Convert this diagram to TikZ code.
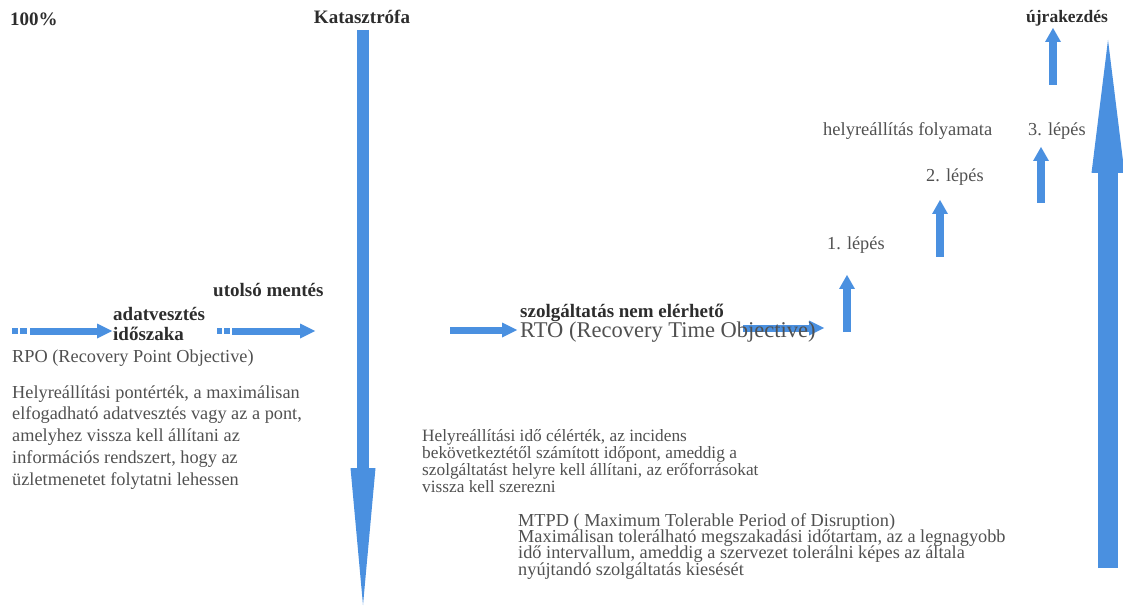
\documentclass[tikz,border=0pt]{standalone}
\usepackage{fontspec}
\setmainfont{Liberation Serif}
\usetikzlibrary{arrows.meta}
\definecolor{arrowblue}{RGB}{74,144,224}
\definecolor{txtgrey}{RGB}{80,80,80}
\definecolor{boldgrey}{RGB}{45,45,45}
\lineskiplimit=-100pt
\tikzset{
  blk/.style={draw=arrowblue, line width=#1, line cap=butt},
  smallh/.style={blk=7pt, -{Triangle[width=15pt,length=15pt,line width=0pt]}},
  smallv/.style={blk=8pt, -{Triangle[width=16pt,length=14pt,line width=0pt]}},
  sq/.style={fill=arrowblue, draw=none},
  lbl/.style={inner sep=0pt, anchor=base west, text=txtgrey, align=left},
  bld/.style={inner sep=0pt, anchor=base west, text=boldgrey, font=\bfseries\fontsize{19}{22}\selectfont},
}
\begin{document}
\begin{tikzpicture}[x=1pt,y=-1pt]
\useasboundingbox (0,0) rectangle (1123,609);
% big arrows
\coordinate (dtop) at (363,30);
\coordinate (dbot) at (363,605);
\draw[blk=12pt, -{Triangle[width=25pt,length=137pt,line width=0pt]}] (dtop) -- (dbot);
\coordinate (ubot) at (1108,568);
\coordinate (utop) at (1108,40);
\draw[blk=20pt, -{Triangle[width=33pt,length=133pt,line width=0pt]}] (ubot) -- (utop);
% horizontal small arrows
\fill[sq] (12,328) rectangle (18,334);
\fill[sq] (20,328) rectangle (27,334);
\coordinate (h1s) at (30,331); \coordinate (h1e) at (112,331);
\draw[smallh] (h1s) -- (h1e);
\fill[sq] (217,328) rectangle (222,334);
\fill[sq] (224,328) rectangle (230,334);
\coordinate (h2s) at (232,331); \coordinate (h2e) at (315,331);
\draw[smallh] (h2s) -- (h2e);
\coordinate (h3s) at (450,330); \coordinate (h3e) at (517,330);
\draw[smallh] (h3s) -- (h3e);
\coordinate (h4s) at (743,328); \coordinate (h4e) at (824,328);
\draw[smallh] (h4s) -- (h4e);
% vertical small arrows
\coordinate (v1s) at (847,332); \coordinate (v1e) at (847,275);
\draw[smallv] (v1s) -- (v1e);
\coordinate (v2s) at (940,257); \coordinate (v2e) at (940,200);
\draw[smallv] (v2s) -- (v2e);
\coordinate (v3s) at (1041,203); \coordinate (v3e) at (1041,147);
\draw[smallv] (v3s) -- (v3e);
\coordinate (v4s) at (1053,85); \coordinate (v4e) at (1053,28);
\draw[smallv] (v4s) -- (v4e);
% bold labels
\node[bld] (p100) at (10,26) {100\%};
\node[bld, anchor=base] (kat) at (362,24) {Katasztrófa};
\node[bld, anchor=base, font=\bfseries\fontsize{17.5}{20}\selectfont] (ujra) at (1067,23) {újrakezdés};
\node[bld] (utolso) at (213,297) {utolsó mentés};
\node[bld] (adatv) at (113,320) {adatvesztés};
\node[bld] (idoszak) at (113,340) {időszaka};
\node[bld] (szolg) at (520,317) {szolgáltatás nem elérhető};
% normal labels
\node[lbl, font=\fontsize{18.3}{22}\selectfont] (rpo) at (12,362) {RPO (Recovery Point Objective)};
\node[lbl, font=\fontsize{18.3}{21.7}\selectfont] (rpotxt) at (12,485) {Helyreállítási pontérték, a maximálisan\\elfogadható adatvesztés vagy az a pont,\\amelyhez vissza kell állítani az\\információs rendszert, hogy az\\üzletmenetet folytatni lehessen};
\node[lbl, font=\fontsize{22.5}{24}\selectfont] (rto) at (520,337) {RTO (Recovery Time Objective)};
\node[lbl, font=\fontsize{17.3}{16.7}\selectfont] (rtotxt) at (422,492) {Helyreállítási idő célérték, az incidens\\bekövetkeztétől számított időpont, ameddig a\\szolgáltatást helyre kell állítani, az erőforrásokat\\vissza kell szerezni};
\node[lbl, font=\fontsize{18.3}{16.3}\selectfont] (mtpd) at (518,575) {MTPD ( Maximum Tolerable Period of Disruption)\\Maximálisan tolerálható megszakadási időtartam, az a legnagyobb\\idő intervallum, ameddig a szervezet tolerálni képes az általa\\nyújtandó szolgáltatás kiesését};
\node[lbl, font=\fontsize{18.5}{22}\selectfont] (folyamat) at (823,136) {helyreállítás folyamata};
\node[lbl, font=\fontsize{18.3}{22}\selectfont] (lep3) at (1028,136) {3. lépés};
\node[lbl, font=\fontsize{18.3}{22}\selectfont] (lep2) at (926,182) {2. lépés};
\node[lbl, font=\fontsize{18.3}{22}\selectfont] (lep1) at (827,250) {1. lépés};
\end{tikzpicture}
\end{document}
